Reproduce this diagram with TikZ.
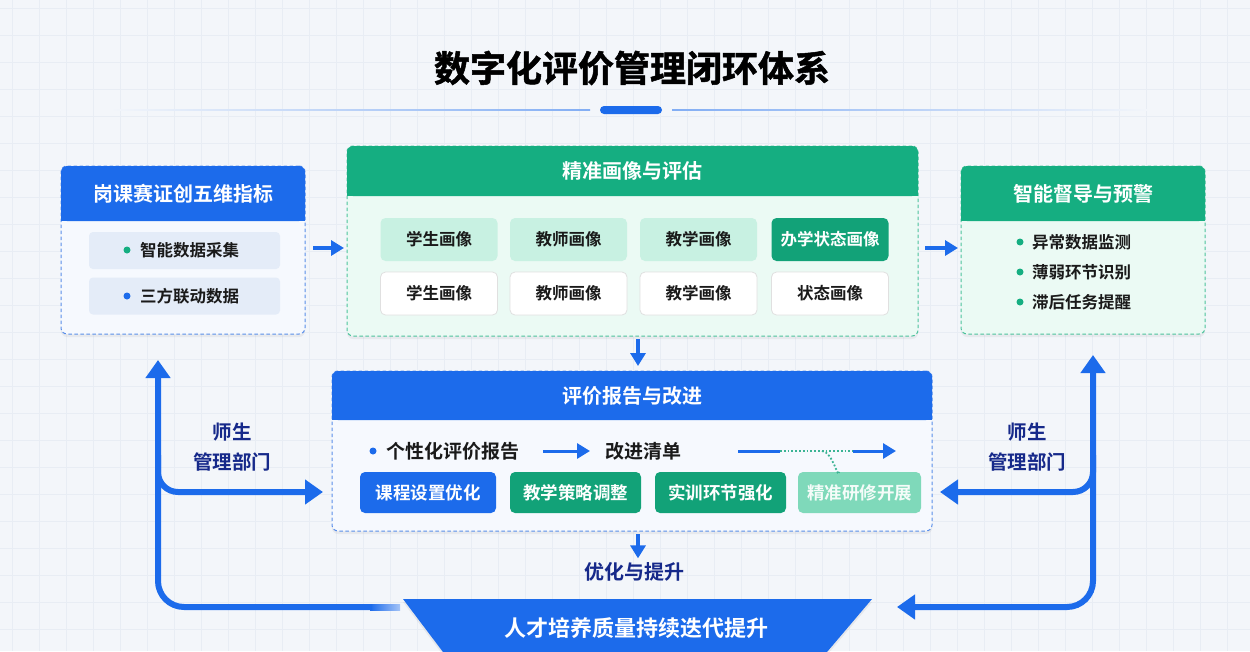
\documentclass[tikz,border=0pt]{standalone}
\usepackage{fontspec}
\setmainfont{Noto Sans CJK SC}[BoldFont={Noto Sans CJK SC Bold}]
\newfontfamily\titlefont{Noto Sans CJK SC Bold}[FakeBold=1.4]
\usetikzlibrary{arrows.meta,shadows,calc}
\definecolor{bg}{HTML}{F3F6FA}
\definecolor{gridc}{HTML}{E8EDF4}
\definecolor{bblue}{HTML}{1C6BEB}
\definecolor{dashblue}{HTML}{5A8FEA}
\definecolor{bgreen}{HTML}{15AE81}
\definecolor{dashgreen}{HTML}{4CC39C}
\definecolor{navy}{HTML}{16298A}
\definecolor{mint}{HTML}{C8F1E2}
\definecolor{dgreen}{HTML}{12A278}
\definecolor{lgreen}{HTML}{7FD9BA}
\definecolor{itembg}{HTML}{E4ECF8}
\definecolor{lbody}{HTML}{F6F9FE}
\definecolor{gbody}{HTML}{EBFAF4}
\definecolor{txt}{HTML}{1A1A1A}
\definecolor{teal}{HTML}{3BB494}
\tikzset{
  body/.style={draw, dash pattern=on 3.5pt off 2.5pt, line width=1pt, rounded corners=6pt, inner sep=0pt, outer sep=0pt},
  hdr/.style={text=white, font=\fontsize{20}{24}\selectfont\bfseries, inner sep=0pt, outer sep=0pt, rounded corners=6pt},
  item/.style={fill=itembg, rounded corners=4pt, minimum width=191pt, minimum height=37pt, inner sep=0pt},
  itemtxt/.style={text=txt, font=\fontsize{16.5}{20}\selectfont\bfseries, inner sep=0pt},
  cell/.style={rounded corners=5pt, minimum width=117pt, minimum height=43pt, inner sep=0pt, font=\fontsize{16.5}{20}\selectfont\bfseries},
  cellA/.style={cell, fill=mint, text=txt},
  cellB/.style={cell, fill=white, draw=black!12, line width=0.8pt, text=txt},
  bcell/.style={rounded corners=5pt, minimum height=41pt, inner sep=0pt, font=\fontsize{17.5}{20}\selectfont\bfseries, text=white},
  midarrow/.style={line width=3.5pt, draw=bblue, -{Triangle[length=13pt,width=15pt]}},
  bigarrow/.style={line width=6pt, draw=bblue, rounded corners=26pt},
  bigtip/.tip={Triangle[length=18pt,width=24pt]},
  lbl/.style={text=navy, font=\fontsize{19.5}{30}\selectfont\bfseries, align=center, inner sep=0pt},
  shd/.style={drop shadow={opacity=0.10, shadow xshift=0pt, shadow yshift=-3pt}}
}
\begin{document}
\begin{tikzpicture}[x=1pt,y=-1pt]
\useasboundingbox (0,0) rectangle (1250,651);
\fill[bg] (0,0) rectangle (1250,651);
\foreach \x in {12,39,...,1250} \draw[gridc, line width=0.5pt] (\x,0) -- (\x,651);
\foreach \y in {8,35,...,651} \draw[gridc, line width=0.5pt] (0,\y) -- (1250,\y);

% title
\node[font=\titlefont\fontsize{36}{40}\selectfont, text=black, inner sep=0pt] (title) at (632,68) {数字化评价管理闭环体系};
\shade[left color=bg, right color=bblue!55] (110,109.3) rectangle (590,110.7);
\shade[left color=bblue!55, right color=bg] (672,109.3) rectangle (1150,110.7);
\fill[bblue, rounded corners=4pt] (600,106) rectangle (662,114);

% left box
\node[body, shd, draw=dashblue, fill=lbody, minimum width=244pt, minimum height=168pt] (L) at (183,250) {};
\node[hdr, fill=bblue, minimum width=244pt, minimum height=55pt, anchor=north] (Lh) at (L.north) {岗课赛证创五维指标};
\fill[bblue] ($(Lh.south west)+(0,-8)$) rectangle (Lh.south east);
\node[item] (L1) at (184.5,250.5) {};
\node[item] (L2) at (184.5,296) {};
\fill[bgreen] (127,250) circle (3.5);
\fill[bblue] (127,296) circle (3.5);
\node[itemtxt, anchor=west] (L1t) at (140,250.5) {智能数据采集};
\node[itemtxt, anchor=west] (L2t) at (140,296) {三方联动数据};

% middle box
\node[body, shd, draw=dashgreen, fill=gbody, minimum width=571pt, minimum height=190pt] (M) at (632.5,241) {};
\node[hdr, fill=bgreen, minimum width=571pt, minimum height=50pt, anchor=north] (Mh) at (M.north) {精准画像与评估};
\fill[bgreen] ($(Mh.south west)+(0,-8)$) rectangle (Mh.south east);
\node[cellA] (M11) at (439,239.5) {学生画像};
\node[cellA] (M12) at (568.5,239.5) {教师画像};
\node[cellA] (M13) at (698.5,239.5) {教学画像};
\node[cell, fill=dgreen, text=white] (M14) at (830,239.5) {办学状态画像};
\node[cellB] (M21) at (439,293.5) {学生画像};
\node[cellB] (M22) at (568.5,293.5) {教师画像};
\node[cellB] (M23) at (698.5,293.5) {教学画像};
\node[cellB] (M24) at (830,293.5) {状态画像};

% right box
\node[body, shd, draw=dashgreen, fill=gbody, minimum width=244pt, minimum height=168pt] (R) at (1083,250) {};
\node[hdr, fill=bgreen, minimum width=244pt, minimum height=55pt, anchor=north] (Rh) at (R.north) {智能督导与预警};
\fill[bgreen] ($(Rh.south west)+(0,-8)$) rectangle (Rh.south east);
\fill[bgreen] (1020,242) circle (3.5);
\fill[bgreen] (1020,272) circle (3.5);
\fill[bgreen] (1020,302) circle (3.5);
\node[itemtxt, anchor=west] (R1) at (1032,242) {异常数据监测};
\node[itemtxt, anchor=west] (R2) at (1032,272) {薄弱环节识别};
\node[itemtxt, anchor=west] (R3) at (1032,302) {滞后任务提醒};

% arrows between top boxes
\draw[midarrow] ($(L.east)+(8,-2)$) -- ($(M.west)+(-3,7)$);
\draw[midarrow] ($(M.east)+(7,7)$) -- ($(R.west)+(-3,-2)$);

% bottom-middle box
\node[body, shd, draw=dashblue, fill=lbody, minimum width=600pt, minimum height=160pt] (B) at (632,451) {};
\node[hdr, fill=bblue, minimum width=600pt, minimum height=49pt, anchor=north] (Bh) at (B.north) {评价报告与改进};
\fill[bblue] ($(Bh.south west)+(0,-8)$) rectangle (Bh.south east);
\draw[midarrow] ($(M.south)+(5.5,3)$) -- ($(B.north)+(6,-5)$);

\fill[bblue] (373,451) circle (3.5);
\node[anchor=west, text=txt, font=\fontsize{19}{22}\selectfont\bfseries, inner sep=0pt] (r1) at (386,451) {个性化评价报告};
\node[anchor=west, text=txt, font=\fontsize{19}{22}\selectfont\bfseries, inner sep=0pt] (r2) at (605,451) {改进清单};
\draw[midarrow, line width=3pt] ($(r1.east)+(24,0)$) -- ($(r2.west)+(-15,0)$);
\coordinate (s1) at (738,451);
\coordinate (s2) at (780,451);
\coordinate (s3) at (853,451);
\coordinate (s4) at (896,451);
\draw[bblue, line width=3pt] (s1) -- (s2);
\draw[teal, line width=1.8pt, dotted] (s2) -- (s3);
\draw[midarrow, line width=3pt] (s3) -- (s4);

\node[bcell, fill=bblue, minimum width=136pt] (B1) at (428,492.5) {课程设置优化};
\node[bcell, fill=dgreen, minimum width=131pt] (B2) at (575.5,492.5) {教学策略调整};
\node[bcell, fill=dgreen, minimum width=131pt] (B3) at (720.5,492.5) {实训环节强化};
\node[bcell, fill=lgreen, minimum width=123pt, text=white!92!lgreen] (B4) at (859.5,492.5) {精准研修开展};
\draw[teal, line width=1.8pt, dotted] (822,451) to[out=0,in=-90] (B4.north -| 839,0);

% optimise arrow and label
\node[text=navy, font=\fontsize{20}{24}\selectfont\bfseries, inner sep=0pt] (opt) at (634,572) {优化与提升};
\draw[midarrow] ($(B.south)+(6,3)$) -- ($(opt.north)+(4,-4)$);

% loops
\coordinate (TL) at (398,607);
\coordinate (TR) at (897,607);
\shade[left color=bblue, right color=bblue!40] (370,604) rectangle (400,610);
\draw[bigarrow, -{bigtip}] (372,607) -| (158,360);
\draw[bigarrow, rounded corners=20pt, -{bigtip}] (158,455) |- ($(B.west)+(-9,41)$);
\draw[bigarrow, {bigtip}-{bigtip}] (TR) -| (1093,355);
\draw[bigarrow, rounded corners=20pt, -{bigtip}] (1093,455) |- ($(B.east)+(8,41)$);
\node[lbl] (lab1) at (232,447) {师生\\管理部门};
\node[lbl] (lab2) at (1027,447) {师生\\管理部门};

% bottom trapezoid
\fill[bblue, drop shadow={opacity=0.12, shadow xshift=0pt, shadow yshift=-3pt}] (403,599) -- (872,599) -- (827,652) -- (443,652) -- cycle;
\node[text=white, font=\fontsize{22}{26}\selectfont\bfseries, inner sep=0pt] (T) at (636,628) {人才培养质量持续迭代提升};
\end{tikzpicture}
\end{document}
